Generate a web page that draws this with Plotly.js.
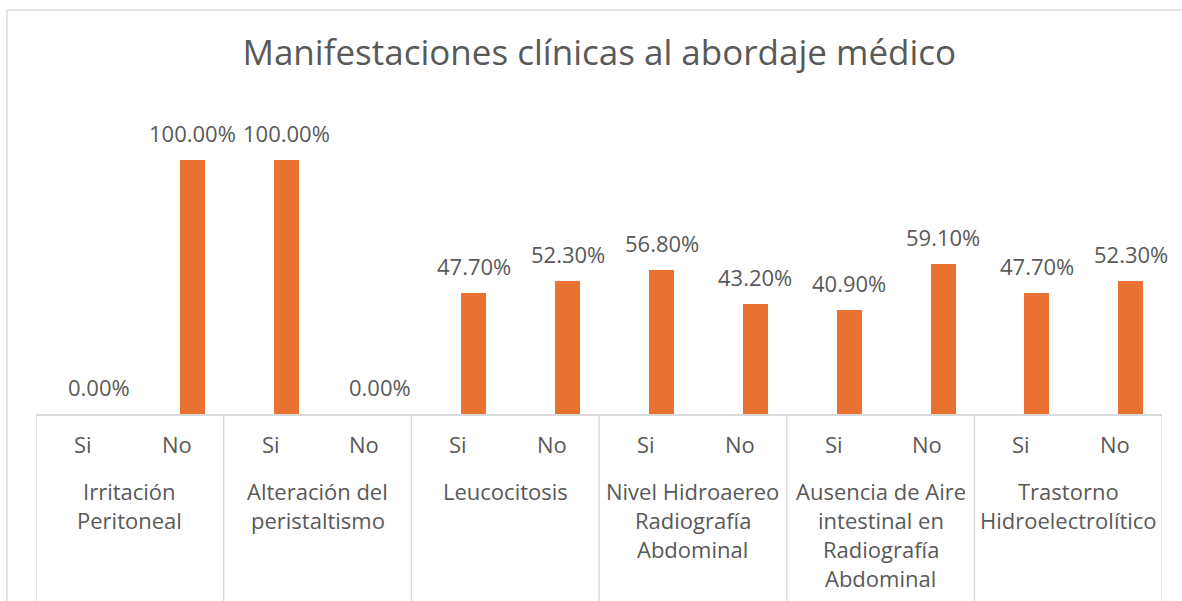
<!DOCTYPE html>
<html>
<head>
<meta charset="utf-8">
<script src="https://cdn.plot.ly/plotly-3.0.1.min.js"></script>
<style>html,body{margin:0;padding:0;background:#fff;}#chart{width:1182px;height:601px;}</style>
</head>
<body>
<div id="chart"></div>
<script>
// ---- data ----
const groups = [
  ["Irritación", "Peritoneal"],
  ["Alteración del", "peristaltismo"],
  ["Leucocitosis"],
  ["Nivel Hidroaereo", "Radiografía", "Abdominal"],
  ["Ausencia de Aire", "intestinal en", "Radiografía", "Abdominal"],
  ["Trastorno", "Hidroelectrolítico"]
];
const subCats = ["Si", "No"];
const values = [0.0, 1.0, 1.0, 0.0, 0.477, 0.523, 0.568, 0.432, 0.409, 0.591, 0.477, 0.523];

// ---- derived ----
const FONT = "Open Sans, Inter, sans-serif";
const GREY = "#595959";
const LINE = "#d9d9d9";
const FS = 22;
const idx = values.map((v, i) => i);
const BAR_OFF = 0.034, BAR_W = 0.266;

function pct(v) { return (v * 100).toFixed(2) + "%"; }

const annotations = [];
// data labels
values.forEach((v, i) => {
  annotations.push({
    x: i + BAR_OFF + BAR_W / 2, y: v, xref: "x", yref: "y",
    text: pct(v), showarrow: false, yanchor: "middle", yshift: 27,
    font: {family: FONT, size: FS, color: GREY}
  });
});
// sub-category labels
idx.forEach(i => {
  annotations.push({
    x: i, y: 0, xref: "x", yref: "y", text: subCats[i % 2], showarrow: false,
    yanchor: "middle", yshift: -30, font: {family: FONT, size: FS, color: GREY}
  });
});
// group labels
groups.forEach((lines, g) => {
  lines.forEach((t, k) => {
    annotations.push({
      x: 2 * g + 0.5, y: 0, xref: "x", yref: "y", text: t, showarrow: false,
      yanchor: "middle", yshift: -(77 + 29 * k), font: {family: FONT, size: FS, color: GREY}
    });
  });
});

const shapes = [];
for (let g = 0; g <= groups.length; g++) {
  shapes.push({type: "line", xref: "x", yref: "paper", x0: 2 * g - 0.5, x1: 2 * g - 0.5,
    y0: 0, y1: -0.7, line: {color: LINE, width: 1.5}});
}
// chart border (top + left)
shapes.push({type: "line", xref: "paper", yref: "paper", x0: -0.0258, x1: 1.2, y0: 1.3246, y1: 1.3246, line: {color: LINE, width: 1.5}});
shapes.push({type: "line", xref: "paper", yref: "paper", x0: -0.0258, x1: -0.0258, y0: 1.3246, y1: -0.7, line: {color: LINE, width: 1.5}});

const trace = {
  type: "bar", x: idx, y: values, offset: BAR_OFF, width: BAR_W,
  marker: {color: "#E97132"}, hoverinfo: "skip"
};

const layout = {
  width: 1182, height: 601,
  margin: {l: 36, r: 20, t: 109, b: 187},
  paper_bgcolor: "#ffffff", plot_bgcolor: "#ffffff",
  title: {text: "Manifestaciones clínicas al abordaje médico", x: 0.507, xanchor: "center",
    y: 0.912, yanchor: "middle", font: {family: FONT, size: 35, color: GREY}},
  xaxis: {range: [-0.5, 11.5], showticklabels: false, showgrid: false, zeroline: false,
    showline: true, linecolor: LINE, linewidth: 1.5, ticks: "", fixedrange: true},
  yaxis: {range: [0, 1.2], visible: false, showgrid: false, zeroline: false},
  showlegend: false, bargap: 0,
  annotations: annotations, shapes: shapes
};

Plotly.newPlot("chart", [trace], layout, {displayModeBar: false, staticPlot: true});
</script>
</body>
</html>
